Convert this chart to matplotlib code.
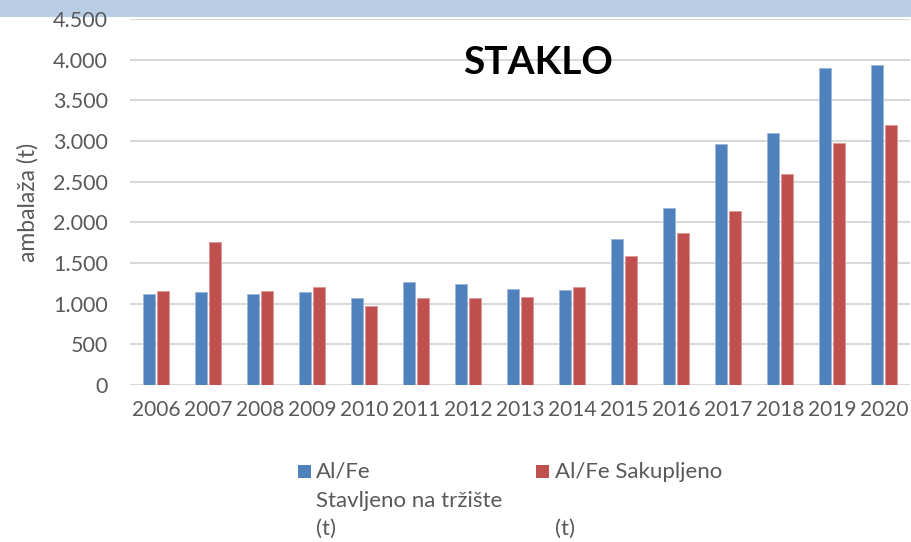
import numpy as np
import matplotlib
matplotlib.use("Agg")
import matplotlib.pyplot as plt
from matplotlib.patches import Rectangle
from matplotlib.ticker import FuncFormatter

plt.rcParams['font.family'] = ['Lato', 'DejaVu Sans']

years = ['2006', '2007', '2008', '2009', '2010', '2011', '2012', '2013',
         '2014', '2015', '2016', '2017', '2018', '2019', '2020']
# Al/Fe Stavljeno na tržište (t)
stavljeno = [1115, 1140, 1115, 1145, 1070, 1263, 1242, 1177,
             1169, 1800, 2181, 2961, 3100, 3900, 3940]
# Al/Fe Sakupljeno (t)
sakupljeno = [1160, 1760, 1160, 1200, 975, 1066, 1066, 1083,
              1202, 1591, 1866, 2136, 2596, 2980, 3194]

blue = '#4F81BD'
red = '#C0504D'
grey = '#595959'

fig = plt.figure(figsize=(9.11, 5.42), dpi=100)
ax = fig.add_axes([130/911, 1-385/542, 780/911, 366/542])

x = np.arange(len(years))
w = 0.225
ax.bar(x - 0.14, stavljeno, w, color=blue, edgecolor='#9DB6D8', linewidth=0.6, zorder=3)
ax.bar(x + 0.14, sakupljeno, w, color=red, edgecolor='#DE9896', linewidth=0.6, zorder=3)

ax.set_xlim(-0.5, 14.5)
ax.set_ylim(0, 4500)
ax.set_yticks(np.arange(0, 4501, 500))
ax.yaxis.set_major_formatter(FuncFormatter(lambda v, p: f'{int(v):,}'.replace(',', '.')))
ax.set_xticks(x)
ax.set_xticklabels(years)
ax.grid(axis='y', color='#D9D9D9', linewidth=1.5, zorder=0)
for s in ax.spines.values():
    s.set_visible(False)
ax.tick_params(axis='both', length=0, labelcolor=grey)
ax.tick_params(axis='y', pad=16, labelsize=15.5)
ax.tick_params(axis='x', pad=11, labelsize=15)
ax.set_ylabel('ambalaža (t)', fontsize=16.5, color=grey, labelpad=10)

ax.text(538/911, 1-62/542, 'STAKLO', transform=fig.transFigure, ha='center', va='center',
        fontsize=28, fontweight='bold', color='black')

# top band
fig.add_artist(Rectangle((0, 1-17/542), 1, 17/542, transform=fig.transFigure,
                         facecolor='#B9CDE5', edgecolor='none', zorder=-1))

# legend
fig.add_artist(Rectangle((298/911, 1-478/542), 13/911, 13/542, transform=fig.transFigure,
                         facecolor=blue, edgecolor='none'))
fig.add_artist(Rectangle((536/911, 1-478/542), 13/911, 13/542, transform=fig.transFigure,
                         facecolor=red, edgecolor='none'))
fs = 16
fig.text(316/911, 1-472/542, 'Al/Fe', fontsize=fs, color=grey, va='center')
fig.text(316/911, 1-501/542, 'Stavljeno na tržište', fontsize=fs, color=grey, va='center')
fig.text(316/911, 1-529/542, '(t)', fontsize=fs, color=grey, va='center')
fig.text(555/911, 1-472/542, 'Al/Fe Sakupljeno', fontsize=fs, color=grey, va='center')
fig.text(555/911, 1-529/542, '(t)', fontsize=fs, color=grey, va='center')

fig.savefig('out.png', dpi=100)
